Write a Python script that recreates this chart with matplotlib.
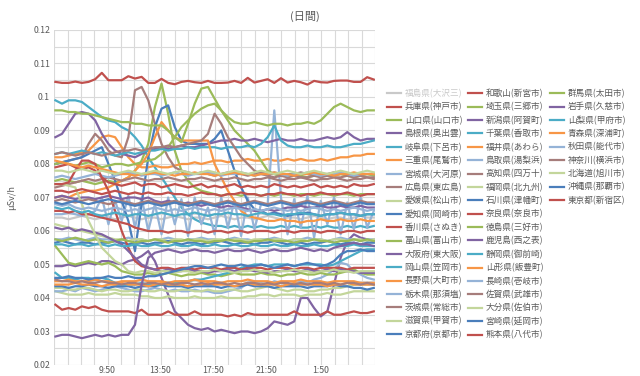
import numpy as np
import matplotlib
matplotlib.use("Agg")
import matplotlib.pyplot as plt

plt.rcParams['font.family'] = ['Noto Sans CJK JP', 'DejaVu Sans']

# ---- data (values in 0.001 µSv/h, one value every 30 minutes from 6:00) ----
fukushima = [64,64,63.5,64,64.5,64,63.5,64,64,63.5,64,64.5,64,63.5,64,64,63.5,64,64.5,64,63.5,64,64,63.5,64,64.5,64,63.5,64,64,63.5,64,64.5,64,63.5,64,64,63.5,64,64.5,64,63.5,64,64,63.5,64,64.5,64,64]
hyogo = [104.5,104.2,104.2,104.6,104.2,104.5,105.3,107.2,105.0,105.0,105.0,106.2,105.5,106.0,104.2,104.2,105.4,104.2,103.8,104.5,104.8,104.4,104.2,104.8,104.2,104.2,104.3,104.8,104.2,105.7,104.3,104.8,105.3,104.2,105.6,104.3,104.8,104.4,103.7,104.8,104.4,104.3,104.8,104.9,104.9,104.5,104.5,105.9,105.2]
yamaguchi = [75,75.5,75,74.5,75,74.5,74,74.5,75,74.5,75,76,78,81,86,97,104,95,84,78,75,73,72,71.5,71,70.5,71,71,70.5,71,71,70.5,71,70.5,71,71,70.5,71,71,70.5,71,71,70.5,71,71,70.5,71,71,71]
shimane = [49.5,49.5,50,49.5,50,50.5,50,51,51,50.5,50,51,51.5,52.5,54,51,46,41,36,34,32,31,30.5,31,30,30.5,30,29.5,30,30,29.5,30,31,33,32.5,32,33,40,40,37,34.5,36,44,52,57,59,58,57.5,57]
gifu = [99,98,99,99,98.5,97,95.5,94,93,92.5,91,90,88,85.5,82,79,76,73,70,67,65,63.5,62.5,62,61.5,61.5,61,61.5,61,61.5,61,61.5,61,61,61.5,61,61.5,61,61,61.5,61,61.5,61,61,61.5,61,61.5,61,61.5]
mie = [82,82,82.5,83,83.5,84,86,88,88.5,88,85,82,80,79,79,79.5,79,79,79.5,80,80,80.5,80,80.5,81,81,80.5,81,81,81.5,81,81,81.5,81,81,81.5,81,81.5,81,81,81.5,81,81.5,82,82,82.5,82.5,83,83]
miyagi = [65,65,65.5,65,64.5,65,66,70,62,69,63,70.5,61,70,60,68,59,70,62,69.5,58.5,70,62,67,59,70,61,69,58.5,70,60.5,68,68,96,70,59,69.5,61,70.5,58,69,62,70,59,68.5,60.5,70,61,66]
hiroshima = [80,80.5,81,81.5,82,86,89,87,84,82.5,82,88,102,103,99,92,86,82,79,78,77.5,77,77.5,77,76.5,77,77.5,77,77,76.5,77,77.5,77,77,76.5,77,77,77.5,77,76.5,77,77,77.5,77,77,76.5,77,77,77]
ehime = [42,41.5,41,41,41,41.5,41,41,41,41.5,41,41,41,40.5,40.5,40,40,40.5,40,40,40,40.5,40,40,40,40.5,40,40,40,40.5,40.5,41,41,40.5,41,41,41,40.5,41,41,41,41.5,41,41,41.5,42,42,42,42]
aichi = [80,80.5,81,81.5,82,83,84,85,80,75,69,63,54,68,82,91,96.5,97.5,91,87,86,86,86,86,87.5,90,84,78,73,69,66.5,66,65,65.5,65,64.5,65,65,65.5,65,64.5,65,65,65.5,65,65,64.5,65,65]
kagawa = [38.0,36.5,37.0,36.5,37.5,37.0,37.5,36.5,36.0,36.0,36.0,36.0,35.5,36.5,35.0,35.0,35.0,36.0,35.0,35.0,35.0,36.0,35.0,35.0,35.0,35.0,34.5,35.0,34.5,35.5,35.0,35.0,35.0,35.0,35.0,35.0,36.0,35.0,35.0,35.0,35.0,36.0,35.0,35.0,35.5,36.0,35.5,35.5,36.0]
toyama = [80,80.5,80,79.5,80,80.5,80,79,79.5,80,80,79.5,80,80.5,81,81.5,83,85,88,91,93,95,96.5,97.5,98,96,93,90,88,86,84,81,78,77,76.5,76.5,77,76.5,76,76.5,77,76.5,76.5,77,76.5,76,76.5,77,76.5]
osaka = [88,89,92,95,95.5,95,93,89,86,84,83,82.5,82,83,84,84.5,85,84.5,85,85.5,85,85,85.5,86,86.5,87,87,87.5,87,87,87.5,87,86.5,87,87.5,87,87,87.5,87,87,87.5,88,87.5,88,89.5,88,87,87.5,87.5]
okayama = [83,83.5,83,83.5,84,83.5,83,83.5,83,82.5,83,83.5,83,83.5,84,84,84.5,84,84.5,84.5,85,84.5,85,85,85,84.5,85,85,85,85.5,85,86,88,91.5,87,85.5,85,85,85.5,85,85,85.5,85,85,85.5,86,86,86.5,87]
nagano = [70,70.5,70,71,71.5,72,72,72.5,73,74,75,76,78,80,83,88,92.5,90,88,87,87,87,87,87,80,76,72,69,66,64.5,64,63.5,63,63,63.5,63,63,62.5,63,63,63.5,63,63,63.5,63,63,63.5,63,63]
tochigi = [42,42,42.5,42,43,42.5,42,42.5,43,43.5,43,42.5,42,42,42.5,43,42.5,42,42.5,42,42,42.5,42,42,41.5,41.5,42,42.5,43,44.5,45,44.5,44,45,44.5,44,44,45,44.5,45.5,46,47,48.5,50.5,50,48,47,46,45.5]
ibaraki = [83,83.5,83,82.5,83,83.5,83,82.5,83,83.5,84,84,84.5,84,84.5,85,85,85.5,85,85.5,86,86.5,87,89,95,92,88,85,82,80,78,77,76.5,76,76.5,76,76.5,76,76,76.5,76,76.5,76,76,76.5,76,76.5,76,76]
shiga = [43,43,42.5,42.5,43,43,42.5,42,42.5,42.5,42,42,42.5,42.5,42,42,42.5,42,42,42.5,42.5,42,42,42.5,42,42,42.5,42.5,42,42,42.5,43,43.5,43,42.5,42,42.5,42.5,42,42,42.5,42.5,43,43,43.5,44,44,44,44]
kyoto = [43.5,43.5,43,43.5,43.5,44,43.5,43.5,43,43.5,43.5,43.5,43,43.5,43.5,43.5,44,43.5,43.5,43.5,43,43.5,43.5,43.5,43.5,43,43.5,43.5,43.5,44,43.5,43.5,43.5,43,43.5,43.5,43.5,43.5,43,43.5,43.5,43.5,44,43.5,43.5,43,43,42.5,43]
wakayama = [66,66,65.5,66,65,65,64.5,64,63.5,63,62.5,62,61,60.5,60,60,60,59.5,60,60,59.5,60,60,59.5,60,60,59.5,60,60,59.5,60,60,60,59.5,60,60,59.5,60,60,60,59.5,60,60,59.5,60,60,59.5,60,60]
saitama = [55.5,53,50.5,50,50.5,51,50.5,50,50.5,49.5,48,47.5,47,47,47.5,47,47,47.5,47,46.5,47,47,47.5,47,47,46.5,47,47.5,47,47,47,47.5,47,47,46.5,47,47,47.5,47,47,47.5,47,47,47.5,48,48.5,47.5,47,47]
niigata = [70,70.5,70,69.5,70,70,69.5,70,70.5,70,69.5,70,70,69.5,70,69,68.5,69,68.5,68,68.5,68,67.5,68,67.5,67,67.5,67,67,66.5,66,66,66.5,66,66.5,67,67,67.5,67,67,67.5,67,67,67.5,67,67,67.5,67,67]
chiba = [47.5,46,46,45.5,46,46,45.5,46,45.5,44.5,44,44,44,44.5,44,44,44,44.5,44.5,45,45,45.5,45.5,46,46.5,47,47.5,48,49,49.5,50,50,49.5,50,50,50,49.5,50,50,50,50,49.5,50,51,52,53,54,54.5,54.5]
fukui = [45,45,45.5,45,45,45,45.5,45,45,44.5,45,45,45,45.5,45,45,45,44.5,45,45,45,45.5,45,45,45,44.5,45,45,45,45.5,45,45,45,44.5,45,45,45,45.5,45,45,45,44.5,45,45,45,45,44.5,44.5,44.5]
tottori = [57.5,57.5,58,57.5,57,57.5,58,57.5,57.5,57,57.5,58,57.5,57.5,57,57.5,57.5,58,57.5,57,57.5,57.5,58,57.5,57.5,57,57.5,58,57.5,57.5,57,57.5,57.5,58,57.5,57,57.5,57.5,58,57.5,57.5,57,57.5,58,57.5,57.5,57,57.5,57.5]
kochi = [73,73.5,74,74.5,75,75.5,75,75.5,76,75.5,75,75.5,76,75.5,75,75.5,75.5,76,75.5,75,75.5,75.5,76,75.5,75,75.5,75.5,76,75.5,75,75.5,75.5,76,75.5,75,75.5,75.5,76,75.5,75,75.5,75.5,76,75.5,75,75.5,75.5,76,75.5]
fukuoka = [62,61.5,61,60.5,60,59.5,59,58.5,58,57.5,57.5,57,57.5,57.5,57,57.5,57.5,57,57.5,57.5,57,57.5,57.5,57,57.5,57.5,57,57.5,57.5,57,57.5,57.5,57,57.5,57.5,57,57.5,57.5,57,57.5,57.5,57,57.5,57.5,57,57.5,57.5,57,57.5]
ishikawa = [56.5,57,56.5,56,56.5,56.5,56,56.5,56.5,57,56.5,56,56.5,56.5,56,56.5,56.5,57,56.5,56,56.5,56.5,56,56.5,56.5,57,56.5,56,56.5,56.5,56,56.5,56.5,57,56.5,56,56.5,56.5,56,56.5,56.5,57,56.5,56,56.5,56.5,56,56.5,56.5]
nara = [79,79.5,80,79,78.5,79,78,76,72,66,60,55,51,49.5,49,48.5,49,49,48.5,49,49,48.5,49,49,49,48.5,49,49,48.5,49,49,49,48.5,49,49,49,48.5,49,49,48.5,49,49,49,49,48.5,49,49,49,49]
tokushima = [57.5,57,57.5,58,57.5,57,57.5,57,56.5,57,57.5,57,56.5,57,57,57.5,57,56.5,57,57,57.5,57,57,56.5,57,57,57.5,57,57,56.5,57,57,57.5,57,57,57,56.5,57,57,57.5,57,57,56.5,57,57,57.5,57,57.5,57]
kagoshima = [61,60.5,61,60,60.5,60,59.5,59,58,57,56,54,52,50,49,48.5,48,48.5,48,48,48.5,48,48,47.5,48,48,48.5,48,48,48.5,48,48,47.5,48,48,48.5,48,48,48.5,48,48,48.5,48,48.5,48,48,47.5,47.5,47.5]
shizuoka = [56,56,55.5,56,56,55.5,56,56,55.5,56,55.5,55.5,56,55.5,55.5,56,55.5,55.5,56,55.5,55.5,56,55.5,55.5,56,55.5,55.5,56,55.5,55.5,56,55.5,55.5,56,55.5,55.5,56,55.5,55.5,56,55.5,55.5,56,55.5,55.5,56,55.5,55.5,55.5]
yamagata = [44,44,44,44.5,44,44,44,43.5,44,44,44.5,44,44,44,43.5,44,44.5,44,44,44,43.5,44,44,44.5,44,44,44,43.5,44,44.5,44,44,44,44,43.5,44,44.5,44,44,44,44,43.5,44,44,44.5,44,44,44,44]
nagasaki = [76,76.5,76,75.5,76,76.5,77,76.5,76,76.5,77,77.5,77,76.5,77,77,76.5,77,77.5,77,76.5,77,77,77.5,77,76.5,77,77,77.5,77,76.5,77,77,77.5,77,76.5,77,77,77.5,77,76.5,77,77,77.5,77,76.5,77,77,77]
saga = [45.5,45,45,44.5,45,44.5,44.5,45,44.5,44.5,44,44.5,44.5,44,44.5,44.5,44,44.5,44,44.5,44.5,44,44.5,44,44.5,44.5,44,44.5,44,44.5,44.5,44,44.5,44,44.5,44.5,44,44.5,44,44.5,44.5,44,44.5,44,44.5,44.5,44,44.5,44]
oita = [74,74,73.5,73,68,63,59,55,53,51,50,48,47.5,48,48,47.5,48,48,47.5,48,48,47.5,48,48,48.5,48,48,47.5,48,48,48.5,48,48,47.5,48,48,48.5,48,48,47.5,48,48,48.5,48,48,47.5,48,48,48]
miyazaki = [46,46,46.5,46,46,45.5,46,46,46.5,46,46,46.5,46,46,46.5,46.5,47,47.5,48,48.5,49,49.5,49.5,49,49.5,50,49.5,49.5,50,49.5,49.5,50,49.5,49,49.5,50,49.5,50,50.5,50,49.5,50,51,53,54,54,54.5,54,54]
kumamoto = [74,74,74.5,78,81,81,80,76,74.5,74,73.5,74,74.5,73.5,74,74,73,73.5,74,73.5,73,73.5,74,73,73.5,73,73.5,74,73,73.5,73,73.5,73,74,73.5,73,73.5,73,73.5,74,73,73.5,73,73.5,73,74,73.5,73.5,74]
gunma = [96,96,95.5,95.5,95,95,94.5,94,93.5,93,92.5,92.5,92,92,91.5,91.5,91.5,90,88,86.5,92,98,102.5,103,99.5,96,94,92.5,92,92,92.5,92,91.5,92,92,91.5,92,92,92.5,92,93,95,97,98,97,96,95.5,96,96]
iwate = [28.5,29,29,28.5,28,28.5,29,28.5,29,28.5,29,29,32,44,52,53.5,54,54.5,54,53.5,54,54.5,54,54,53.5,54,54.5,54,54,54.5,54,53.5,54,54.5,54,54,54.5,55,54.5,54,54.5,54,55,55.5,56,56.5,56,56,55.5]
yamanashi = [67,66.5,67,66,65.5,66,65,64.5,65,65.5,65,64.5,65,65,64.5,65,65.5,65,64.5,65,65,65.5,65,64.5,65,65,65.5,65,65,64.5,65,65.5,65,65,64.5,65,65,65.5,65,65,64.5,65,65,65.5,65,65,64.5,65,65]
aomori = [81,80.5,80,79.5,79,79.5,79,78.5,78,77.5,77,77,76.5,77,77,77.5,77,77,76.5,77,77,77.5,77,77,76.5,77,77,77.5,77,77,76.5,77,77,77.5,77,77,76.5,77,77,77.5,77,77,76.5,77,77,77.5,77,77,77]
akita = [68,67.5,68,67,66.5,67,66.5,66,66.5,67,66.5,66,66.5,66,66.5,67,66.5,66,66.5,66,66.5,67,66.5,66,66.5,66,66.5,67,66.5,66,66.5,66,66.5,67,66.5,66,66.5,66,66.5,67,66.5,66,66.5,66,66.5,67,66.5,66,66.5]
kanagawa = [69,69.5,69,68.5,69,69.5,69,68.5,68,68.5,69,68.5,68,68.5,69,68.5,68,68.5,69,68.5,68,68.5,69,68.5,68,68.5,69,68.5,68,68.5,69,68.5,68,68.5,69,68.5,68,68.5,69,68.5,68,68.5,69,68.5,68,68.5,69,68.5,68.5]
hokkaido = [78,78,77.5,78,78.5,78,77.5,78,77.5,77,77.5,78,77.5,77,77.5,78,77.5,77,77.5,78,77.5,77,77.5,78,77.5,77,77.5,78,77.5,77,77.5,78,77.5,77,77.5,78,77.5,77,77.5,78,77.5,77,77.5,78,77.5,77,77.5,78,77.5]
okinawa = [68.5,68,68.5,69,68.5,68,68.5,69,69.5,69,68.5,68,67.5,68,68.5,68,67.5,68,68.5,68,67.5,68,68.5,68,67.5,68,68.5,68,67.5,68,68.5,68,67.5,68,68.5,68,67.5,68,68.5,68,67.5,68,68.5,68,67.5,68,68.5,68,68]
tokyo = [72,72,71.5,72,72.5,72,71.5,71,71.5,72,71.5,71,71.5,71,71.5,71,71,71.5,71,71,70.5,71,71.5,71,71,70.5,71,71,71.5,71,71,70.5,71,71,71.5,71,71,70.5,71,71,71.5,71,71,71,71.5,71,70.5,71,71]

labels = ['福島県(大沢三)', '兵庫県(神戸市)', '山口県(山口市)', '島根県(奥出雲)', '岐阜県(下呂市)',
          '三重県(尾鷲市)', '宮城県(大河原)', '広島県(東広島)', '愛媛県(松山市)', '愛知県(岡崎市)',
          '香川県(さぬき)', '富山県(富山市)', '大阪府(東大阪)', '岡山県(笠岡市)', '長野県(大町市)',
          '栃木県(那須塩)', '茨城県(常総市)', '滋賀県(甲賀市)', '京都府(京都市)',
          '和歌山(新宮市)', '埼玉県(三郷市)', '新潟県(阿賀町)', '千葉県(香取市)', '福井県(あわら)',
          '鳥取県(湯梨浜)', '高知県(四万十)', '福岡県(北九州)', '石川県(津幡町)', '奈良県(奈良市)',
          '徳島県(三好市)', '鹿児島(西之表)', '静岡県(御前崎)', '山形県(飯豊町)', '長崎県(壱岐市)',
          '佐賀県(武雄市)', '大分県(佐伯市)', '宮崎県(延岡市)', '熊本県(八代市)',
          '群馬県(太田市)', '岩手県(久慈市)', '山梨県(甲府市)', '青森県(深浦町)', '秋田県(能代市)',
          '神奈川(横浜市)', '北海道(旭川市)', '沖縄県(那覇市)', '東京都(新宿区)']

series = [fukushima, hyogo, yamaguchi, shimane, gifu, mie, miyagi, hiroshima, ehime, aichi,
          kagawa, toyama, osaka, okayama, nagano, tochigi, ibaraki, shiga, kyoto,
          wakayama, saitama, niigata, chiba, fukui, tottori, kochi, fukuoka, ishikawa, nara,
          tokushima, kagoshima, shizuoka, yamagata, nagasaki, saga, oita, miyazaki, kumamoto,
          gunma, iwate, yamanashi, aomori, akita, kanagawa, hokkaido, okinawa, tokyo]

tick_labels = ['9:50', '13:50', '17:50', '21:50', '1:50']
tick_slots = [23, 47, 71, 95, 119]      # 10-minute slots from 6:00

# ---- style ----
cycle = ['#C0504D', '#9BBB59', '#8064A2', '#4BACC6', '#F79646',
         '#95B3D7', '#A67D7B', '#C3D69B', '#4A7EBB']
colors = ['#C9C9C9'] + [cycle[i % 9] for i in range(46)]

fig = plt.figure(figsize=(6.4, 3.76), dpi=100)
ax = fig.add_axes([0.0848, 0.0293, 0.501, 0.891])

n = len(hyogo)
x = np.linspace(0.5, 143.5, n)
handles = []
for vals, col, lab in zip(series, colors, labels):
    h, = ax.plot(x, np.array(vals) / 1000.0, color=col, lw=1.6, label=lab, solid_joinstyle='round')
    handles.append(h)

ax.set_xlim(0, 144)
ax.set_ylim(0.02, 0.12)
ax.set_xticks([s + 0.5 for s in tick_slots])
ax.set_xticklabels(tick_labels)
ax.set_xticks(np.arange(0, 145, 6), minor=True)
ax.set_yticks(np.arange(0.02, 0.1201, 0.01))
ax.set_yticklabels(['0.02', '0.03', '0.04', '0.05', '0.06', '0.07', '0.08', '0.09', '0.1', '0.11', '0.12'])
ax.set_yticks(np.arange(0.025, 0.12, 0.01), minor=True)
ax.grid(True, which='both', color='#D9D9D9', lw=0.8)
ax.grid(False, which='major', axis='x')
ax.set_axisbelow(True)
for s in ax.spines.values():
    s.set_visible(False)
ax.tick_params(which='both', length=0, labelsize=6.3, colors='#595959', pad=3)
ax.tick_params(axis='x', pad=0.5)
ax.set_ylabel('μSv/h', fontsize=6.5, color='#595959', labelpad=12)

fig.text(305 / 640, 1 - 16 / 376, '(日間)', fontsize=8, color='#595959', ha='center', va='center')

# ---- legend: three columns ----
cols = [(0, 19, 387), (19, 38, 468), (38, 47, 550)]
for a, b, px in cols:
    leg = fig.legend(handles[a:b], labels[a:b], loc='upper left',
                     bbox_to_anchor=(px / 640, 1 - 89 / 376), frameon=False,
                     fontsize=6.2, handlelength=1.6, handletextpad=0.45,
                     labelspacing=0.49, borderpad=0, borderaxespad=0)
    for t in leg.get_texts():
        t.set_color('#595959')
    if a == 0:
        leg.get_texts()[0].set_color('#C9C9C9')

fig.savefig('out.png', dpi=100)
